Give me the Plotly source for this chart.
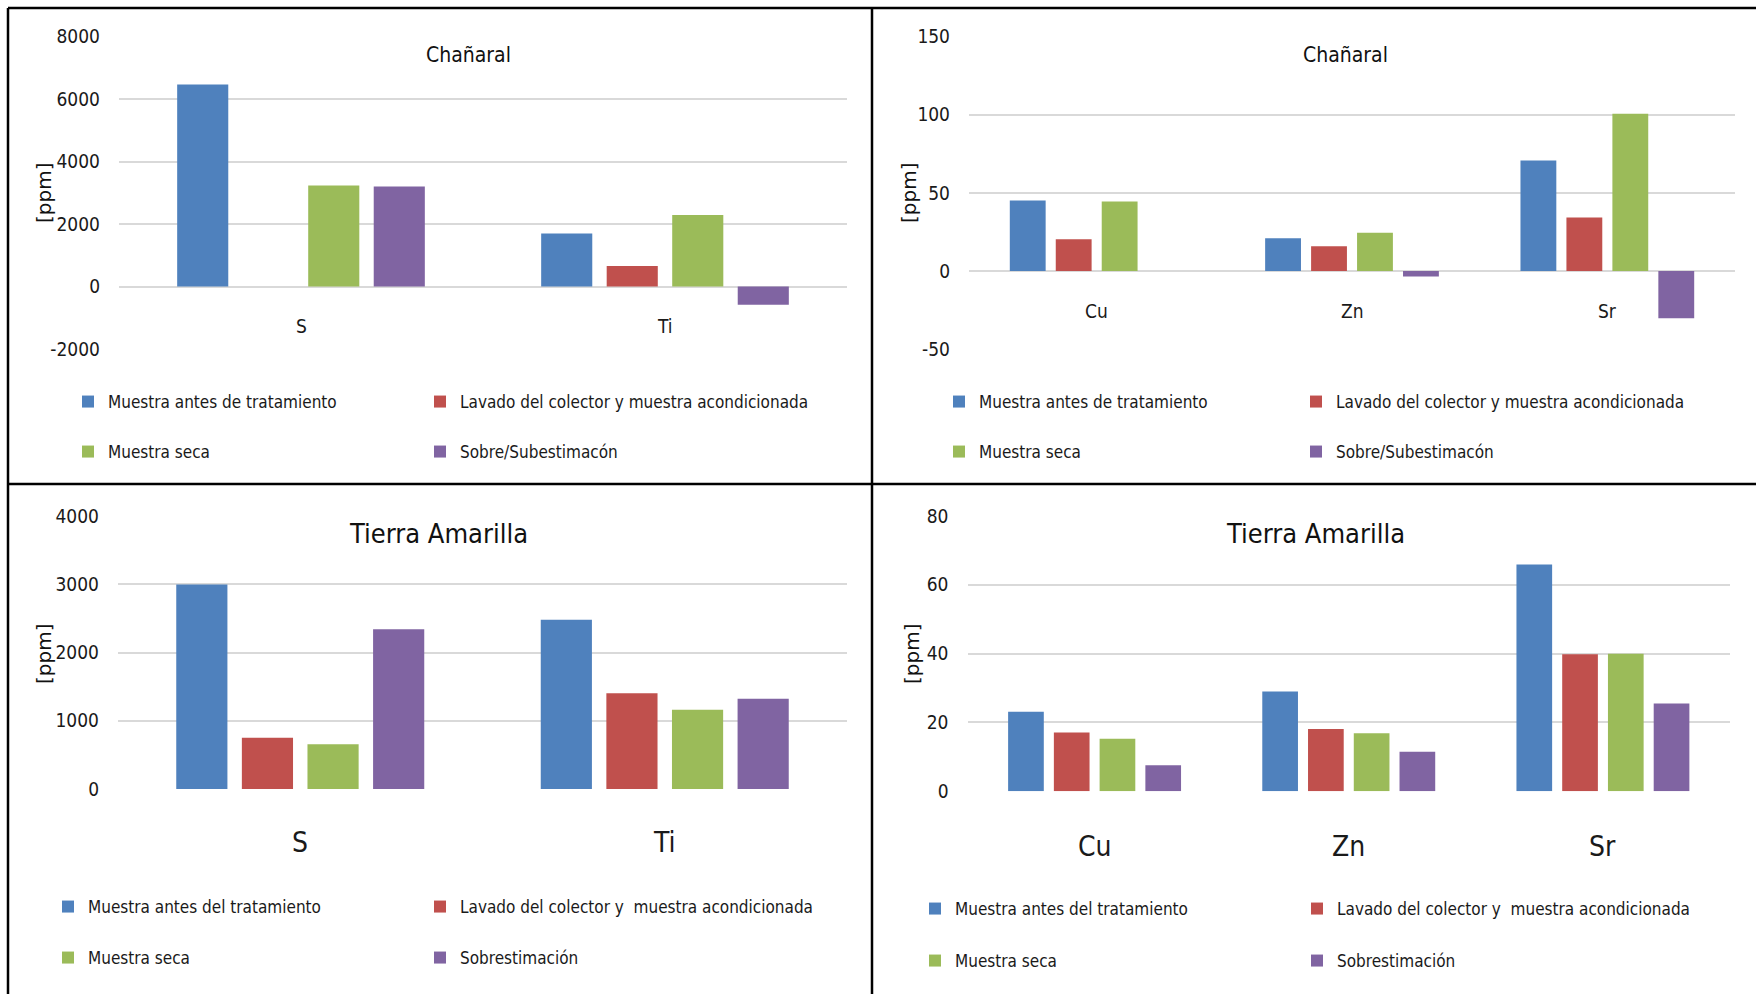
import plotly.graph_objects as go

W, H = 1756, 994

# ---- data ----
series_top = ["Muestra antes de tratamiento",
              "Lavado del colector y muestra acondicionada",
              "Muestra seca",
              "Sobre/Subestimacón"]
series_bottom = ["Muestra antes del tratamiento",
                 "Lavado del colector y\u00a0 muestra acondicionada",
                 "Muestra seca",
                 "Sobrestimación"]
colors = ["#4F81BD", "#C0504D", "#9BBB59", "#8064A2"]

major = ["S", "Ti"]
trace = ["Cu", "Zn", "Sr"]

chanaral_major = [[6470, 1700], [None, 655], [3235, 2290], [3200, -580]]
chanaral_trace = [[45.1, 20.9, 70.7], [20.3, 15.8, 34.2], [44.4, 24.4, 100.6], [None, -3.6, -30.3]]
tierra_major = [[2995, 2480], [752, 1402], [654, 1162], [2340, 1324]]
tierra_trace = [[23.1, 29.0, 65.9], [17.1, 18.1, 39.8], [15.3, 16.9, 40.0], [7.6, 11.5, 25.5]]

titles = ["Chañaral", "Chañaral", "Tierra Amarilla", "Tierra Amarilla"]
y_ranges = [[-2000, 8000], [-50, 150], [0, 4000], [0, 80]]
y_tickvals = [[-2000, 0, 2000, 4000, 6000, 8000],
              [-50, 0, 50, 100, 150],
              [0, 1000, 2000, 3000, 4000],
              [0, 20, 40, 60, 80]]
y_ticktext = [["-2000", "0", "2000", "4000", "6000", "8000"],
              ["-50", "0", "50", "100", "150"],
              ["0", "1000", "2000", "3000", "4000"],
              ["0", "20", "40", "60", "80"]]

FONT = "DejaVu Sans Condensed, Liberation Sans Narrow, sans-serif"
TXT = "#1a1a1a"


def px(x):
    return x / W


def py(y):
    return 1 - y / H


# panel geometry in pixels: plot x0, x1, y_top, y_bottom
panels = [
    dict(x=(119, 847), y=(36.7, 349), title=(469, 55), tsize=21, csize=19, cshift=-39,
         ytitle=(44, 193), leg=[(108, 402), (460, 402), (108, 452), (460, 452)]),
    dict(x=(969, 1735), y=(36.7, 349), title=(1345, 55), tsize=21, csize=19, cshift=-40,
         ytitle=(909, 193), leg=[(979, 402), (1336, 402), (979, 452), (1336, 452)]),
    dict(x=(118, 847), y=(516, 789), title=(438, 533), tsize=27, csize=28, cshift=-53,
         ytitle=(44, 654), leg=[(88, 907), (460, 907), (88, 958), (460, 958)]),
    dict(x=(967.5, 1730), y=(516, 791.3), title=(1315, 533), tsize=27, csize=28, cshift=-55,
         ytitle=(912, 654), leg=[(955, 909), (1337, 909), (955, 961), (1337, 961)]),
]

datasets = [(major, chanaral_major, series_top),
            (trace, chanaral_trace, series_top),
            (major, tierra_major, series_bottom),
            (trace, tierra_trace, series_bottom)]

fig = go.Figure()
layout = dict(width=W, height=H, margin=dict(l=0, r=0, t=0, b=0, autoexpand=False),
              paper_bgcolor="white", plot_bgcolor="white",
              barmode="group", bargap=0.28, bargroupgap=0.22,
              font=dict(family=FONT, color=TXT))
annotations = []
leg_n = 1

for i, (p, (cats, vals, names)) in enumerate(zip(panels, datasets)):
    n = "" if i == 0 else str(i + 1)
    for s in range(4):
        leg_n += 1
        lname = "legend%d" % leg_n
        fig.add_trace(go.Bar(x=cats, y=vals[s], name=names[s],
                             marker=dict(color=colors[s], line=dict(width=0)),
                             xaxis="x" + n, yaxis="y" + n, legend=lname))
        lx, ly = p["leg"][s]
        layout[lname] = dict(x=px(lx - 40), y=py(ly), xanchor="left", yanchor="middle",
                             orientation="h", bgcolor="rgba(0,0,0,0)",
                             font=dict(family=FONT, size=17, color=TXT))
    layout["xaxis" + n] = dict(domain=[px(p["x"][0]), px(p["x"][1])], anchor="y" + n,
                               showticklabels=False, showgrid=False, zeroline=False,
                               showline=False, ticks="", automargin=False)
    layout["yaxis" + n] = dict(domain=[py(p["y"][1]), py(p["y"][0])], anchor="x" + n,
                               range=y_ranges[i], tickvals=y_tickvals[i], ticktext=y_ticktext[i],
                               showgrid=True, gridcolor="#d9d9d9", gridwidth=1.5, zeroline=False,
                               showline=False, ticks="", ticklabelstandoff=18, automargin=False,
                               tickfont=dict(family=FONT, size=19, color=TXT))
    # category labels sit below the zero line, as in Excel
    for c in cats:
        annotations.append(dict(x=c, y=0, xref="x" + n, yref="y" + n, text=c,
                                showarrow=False, yshift=p["cshift"], yanchor="middle",
                                font=dict(family=FONT, size=p["csize"], color=TXT)))
    annotations.append(dict(x=px(p["title"][0]), y=py(p["title"][1]), xref="paper", yref="paper",
                            text=titles[i], showarrow=False, xanchor="center", yanchor="middle",
                            font=dict(family=FONT, size=p["tsize"], color="#111")))
    annotations.append(dict(x=px(p["ytitle"][0]), y=py(p["ytitle"][1]), xref="paper", yref="paper",
                            text="[ppm]", textangle=-90, showarrow=False,
                            xanchor="center", yanchor="middle",
                            font=dict(family="DejaVu Sans", size=20, color="#111")))

layout["annotations"] = annotations

# black frames around the four chart blocks
frame = [((8, 8), (W, 8)), ((8, 8), (8, H)), ((872, 8), (872, H)), ((8, 484), (W, 484))]
layout["shapes"] = [dict(type="line", xref="paper", yref="paper",
                         x0=px(a[0]), y0=py(a[1]), x1=px(b[0]), y1=py(b[1]),
                         line=dict(color="black", width=2.5)) for a, b in frame]

fig.update_layout(**layout)
fig.write_html("out.html", config={"displayModeBar": False},
               post_script="document.body.style.margin='0';"
                           "document.documentElement.style.overflow='hidden';")
